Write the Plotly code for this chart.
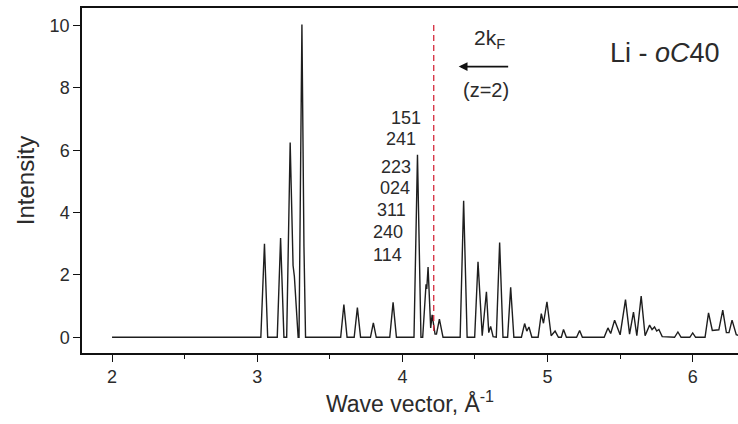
import plotly.graph_objects as go

# Diffraction profile of Li-oC40: vertices of the intensity curve (wave vector in 1/Å)
wave_vector = [
    2.000, 3.025, 3.050, 3.072,
    3.138, 3.155, 3.161, 3.184,
    3.203, 3.227, 3.247, 3.256, 3.282,
    3.288, 3.308, 3.322, 3.333,
    3.575, 3.597, 3.619,
    3.668, 3.690, 3.712,
    3.780, 3.800, 3.820,
    3.913, 3.936, 3.959,
    4.080, 4.104, 4.128,
    4.140, 4.163, 4.168, 4.177, 4.195, 4.205, 4.225, 4.235, 4.255, 4.280,
    4.398, 4.422, 4.446,
    4.498, 4.521, 4.550, 4.579, 4.595, 4.608, 4.625,
    4.647, 4.670, 4.693,
    4.725, 4.746, 4.768,
    4.820, 4.842, 4.857, 4.872, 4.892,
    4.935, 4.957, 4.972, 4.996, 5.025, 5.052, 5.075,
    5.095, 5.110, 5.130,
    5.200, 5.221, 5.240,
    5.390, 5.416, 5.435, 5.462, 5.500, 5.537, 5.565, 5.592, 5.615, 5.645,
    5.672, 5.703, 5.720, 5.737, 5.752, 5.767, 5.790,
    5.875, 5.898, 5.920,
    5.980, 6.000, 6.020,
    6.085, 6.109, 6.135, 6.180, 6.207, 6.232, 6.250, 6.271, 6.300, 6.320,
]
intensity = [
    0.00, 0.00, 3.00, 0.00,
    0.00, 2.45, 3.18, 0.00,
    0.00, 6.25, 2.30, 1.95, 0.00,
    0.00, 10.03, 2.90, 0.00,
    0.00, 1.05, 0.00,
    0.00, 0.95, 0.00,
    0.00, 0.46, 0.00,
    0.00, 1.12, 0.00,
    0.00, 5.85, 0.00,
    0.00, 1.70, 1.55, 2.25, 0.30, 0.72, 0.10, 0.10, 0.58, 0.00,
    0.00, 4.38, 0.00,
    0.00, 2.42, 0.05, 1.46, 0.15, 0.35, 0.02,
    0.00, 3.04, 0.00,
    0.00, 1.60, 0.00,
    0.00, 0.44, 0.20, 0.33, 0.00,
    0.00, 0.76, 0.45, 1.14, 0.05, 0.20, 0.00,
    0.00, 0.25, 0.00,
    0.00, 0.22, 0.00,
    0.00, 0.30, 0.12, 0.55, 0.08, 1.21, 0.10, 0.81, 0.05, 1.32,
    0.05, 0.39, 0.25, 0.33, 0.20, 0.25, 0.02,
    0.00, 0.17, 0.00,
    0.00, 0.14, 0.00,
    0.00, 0.78, 0.22, 0.24, 0.87, 0.15, 0.15, 0.55, 0.08, 0.05,
]

# Reflection indices listed beside the strong peak near 4.1 1/Å
hkl_labels = ["151", "241", "223", "024", "311", "240", "114"]
hkl_label_x = [4.145, 4.111, 4.070, 4.063, 4.042, 4.021, 4.008]
hkl_label_y = [7.04, 6.37, 5.47, 4.79, 4.08, 3.38, 2.64]

# Position of 2k_F for z = 2
two_kf = 4.216
two_kf_span = [0.2, 10.1]

x_ticks = [2, 3, 4, 5, 6]
y_ticks = [0, 2, 4, 6, 8, 10]

FONT = "Liberation Sans, Arial, sans-serif"
INK = "#2b2b2b"

fig = go.Figure()

fig.add_trace(go.Scatter(
    x=wave_vector, y=intensity, mode="lines",
    line=dict(color="#1e1e1e", width=1.4),
    showlegend=False, hoverinfo="skip",
))

fig.add_trace(go.Scatter(
    x=[two_kf, two_kf], y=two_kf_span, mode="lines",
    line=dict(color="#d42a3c", width=1.3, dash="6px,4px"),
    showlegend=False, hoverinfo="skip",
))

annotations = []
for txt, lx, ly in zip(hkl_labels, hkl_label_x, hkl_label_y):
    annotations.append(dict(
        x=lx, y=ly, xref="x", yref="y", text=txt, showarrow=False,
        xanchor="right", yanchor="middle",
        font=dict(family=FONT, size=18, color=INK),
    ))

annotations += [
    dict(x=4.60, y=9.55, xref="x", yref="y", text="2k<sub>F</sub>",
         showarrow=False, xanchor="center", yanchor="middle",
         font=dict(family=FONT, size=21, color=INK)),
    dict(x=4.574, y=7.94, xref="x", yref="y", text="(z=2)",
         showarrow=False, xanchor="center", yanchor="middle",
         font=dict(family=FONT, size=20, color=INK)),
    dict(x=4.388, y=8.68, ax=4.739, ay=8.68, xref="x", yref="y",
         axref="x", ayref="y", text="", showarrow=True,
         arrowhead=2, arrowsize=1.1, arrowwidth=1.6, arrowcolor="#111"),
    dict(x=5.414, y=9.13, xref="x", yref="y", text="Li - <i>oC</i>40",
         showarrow=False, xanchor="left", yanchor="middle",
         font=dict(family=FONT, size=27, color=INK)),
]

fig.update_layout(
    width=738, height=424,
    margin=dict(l=82, r=0, t=8, b=71),
    paper_bgcolor="white", plot_bgcolor="white",
    font=dict(family=FONT, color=INK),
    annotations=annotations,
    showlegend=False,
)

fig.update_xaxes(
    range=[1.793, 6.312], tickvals=x_ticks, ticktext=[str(v) for v in x_ticks],
    showgrid=False, zeroline=False,
    showline=True, linecolor="#111", linewidth=1.5, mirror=True,
    ticks="outside", ticklen=7, tickwidth=1.3, tickcolor="#111",
    minor=dict(dtick=0.5, tick0=2, ticks="outside", ticklen=4, tickwidth=1.3, tickcolor="#111"),
    tickfont=dict(family=FONT, size=18, color=INK),
    title=dict(text="Wave vector, Å<sup>-1</sup>", standoff=6,
               font=dict(family=FONT, size=23, color=INK)),
)

fig.update_yaxes(
    range=[-0.504, 10.56], tickvals=y_ticks, ticktext=[str(v) for v in y_ticks],
    showgrid=False, zeroline=False,
    showline=True, linecolor="#111", linewidth=1.5, mirror=False,
    ticks="outside", ticklen=7, tickwidth=1.3, tickcolor="#111",
    tickfont=dict(family=FONT, size=18, color=INK),
    title=dict(text="Intensity", standoff=8,
               font=dict(family=FONT, size=24, color=INK)),
)

fig.write_html("out.html")
